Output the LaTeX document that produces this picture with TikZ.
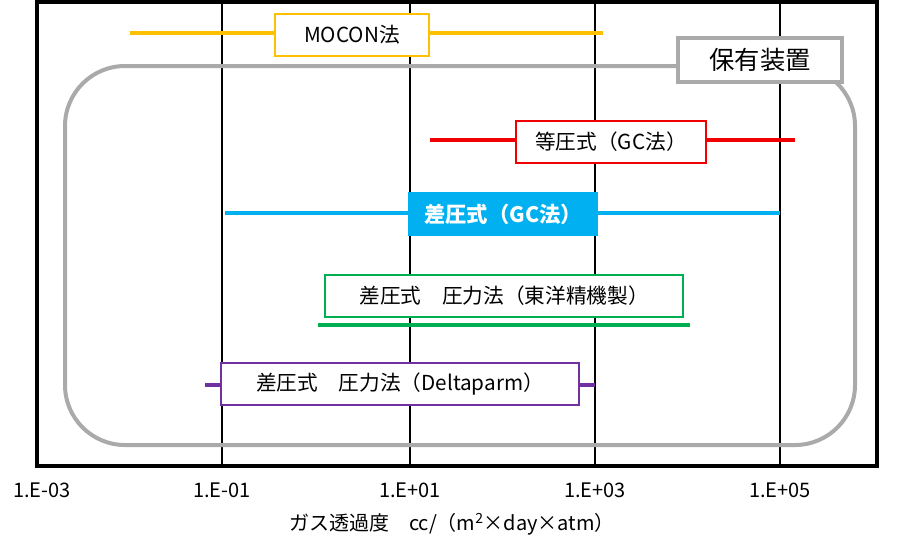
\documentclass[tikz,border=0pt]{standalone}
\usepackage{fontspec}
\setmainfont{Noto Sans CJK JP}
\definecolor{ylw}{RGB}{255,192,0}
\definecolor{rd}{RGB}{240,0,0}
\definecolor{bl}{RGB}{0,176,240}
\definecolor{gr}{RGB}{0,176,80}
\definecolor{pu}{RGB}{112,48,160}
\definecolor{gy}{RGB}{170,170,170}
\tikzset{lab/.style={draw=#1,fill=white,line width=1.5pt,minimum height=31pt,inner xsep=6pt,font=\fontsize{15.5}{17}\selectfont},
rng/.style={draw=#1,line width=3pt},
tick/.style={font=\fontsize{15}{17}\selectfont}}
\begin{document}
\begin{tikzpicture}[x=0.75pt,y=-0.75pt]
\useasboundingbox (0,0) rectangle (909,544);
\foreach \x in {222,410,595,780} \draw[line width=1.5pt] (\x,2)--(\x,466);
\draw[gy,line width=3pt,rounded corners=45pt] (65,66) rectangle (855,445);
\node[draw=gy,fill=white,line width=2.5pt,minimum width=123pt,minimum height=33pt,font=\fontsize{19}{21}\selectfont] (hoyu) at (760,60) {保有装置};
% MOCON
\coordinate (m1) at (130,33); \coordinate (m2) at (603,33);
\draw[rng=ylw] (m1)--(m2);
\node[lab=ylw,minimum width=116pt] (moc) at (352,35) {MOCON法};
% red
\coordinate (r1) at (430,140); \coordinate (r2) at (795,140);
\draw[rng=rd] (r1)--(r2);
\node[lab=rd,minimum width=143pt] (toa) at (611,142) {等圧式（GC法）};
% blue
\coordinate (b1) at (225,213); \coordinate (b2) at (780,213);
\draw[rng=bl] (b1)--(b2);
\node[fill=bl,text=white,minimum width=142pt,minimum height=33pt,inner xsep=2pt,font=\bfseries\fontsize{16}{18}\selectfont] (sag) at (503,214) {差圧式（GC法）};
% green
\node[lab=gr,minimum width=268pt] (toyo) at (504,296) {差圧式　圧力法（東洋精機製）};
\coordinate (g1) at (318,325); \coordinate (g2) at (690,325);
\draw[gr,line width=3.5pt] (g1)--(g2);
% purple
\coordinate (p1) at (205,385); \coordinate (p2) at (595,385);
\draw[rng=pu] (p1)--(p2);
\node[lab=pu,minimum width=268pt] (del) at (400,384) {差圧式　圧力法（Deltaparm）};
\draw[line width=3pt] (37,2) rectangle (877,466);
\node[tick] (t1) at (42,490) {1.E-03};
\node[tick] (t2) at (222,490) {1.E-01};
\node[tick] (t3) at (410,490) {1.E+01};
\node[tick] (t4) at (595,490) {1.E+03};
\node[tick] (t5) at (780,490) {1.E+05};
\node[tick] (ax) at (452,524) {ガス透過度　cc/（m\textsuperscript{2}×day×atm）};
\end{tikzpicture}
\end{document}
